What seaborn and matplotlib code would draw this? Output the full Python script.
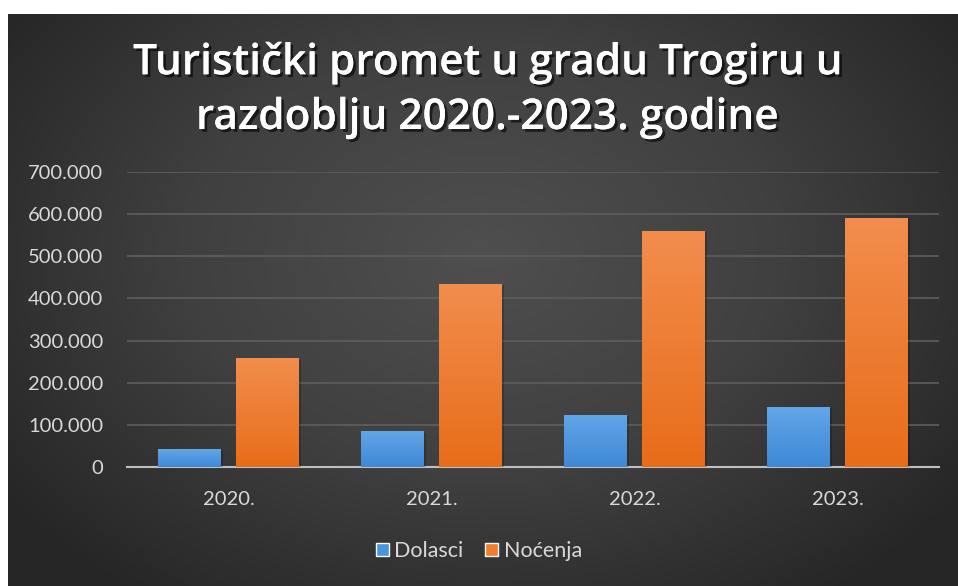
import numpy as np
import pandas as pd
import matplotlib
matplotlib.use("Agg")
import matplotlib.pyplot as plt
import matplotlib.patheffects as pe
from matplotlib.colors import LinearSegmentedColormap, to_hex
from matplotlib.patches import Patch
import seaborn as sns

years = ["2020.", "2021.", "2022.", "2023."]
dolasci = [42000, 85000, 124000, 143000]
nocenja = [258000, 435000, 560000, 591000]
yticks = [0, 100000, 200000, 300000, 400000, 500000, 600000, 700000]
ytick_labels = ["0", "100.000", "200.000", "300.000", "400.000", "500.000", "600.000", "700.000"]
series_names = ["Dolasci", "Noćenja"]

df = pd.DataFrame({
    "Godina": years * 2,
    "Vrijednost": dolasci + nocenja,
    "Serija": [series_names[0]] * 4 + [series_names[1]] * 4,
})

sns.set_theme(style="white")
plt.rcParams["font.family"] = ["Lato", "DejaVu Sans"]

W, H = 958, 586
fig = plt.figure(figsize=(W / 100, H / 100), dpi=100, facecolor="white")

# background radial gradient
bg = fig.add_axes([8 / W, 0, (W - 8) / W, (H - 14) / H])
bg.set_axis_off()
nx, ny = 400, 240
xx, yy = np.meshgrid(np.linspace(0, 1, nx), np.linspace(0, 1, ny))
r = np.sqrt(((xx - 0.5) / 0.62) ** 2 + ((yy - 0.42) / 0.75) ** 2)
r = np.clip(r, 0, 1)
cmap_bg = LinearSegmentedColormap.from_list("bg", ["#4f4f4f", "#404040", "#262626"])
bg.imshow(r, cmap=cmap_bg, aspect="auto", extent=[0, 1, 0, 1], origin="upper", vmin=0, vmax=1)
bg.set_xlim(0, 1)
bg.set_ylim(0, 1)

ax = fig.add_axes([127 / W, (H - 467) / H, (939 - 127) / W, (467 - 172) / H])
ax.patch.set_alpha(0)
palette = {"Dolasci": "#4a93dd", "Noćenja": "#ef7b2e"}
sns.barplot(data=df, x="Godina", y="Vrijednost", hue="Serija", palette=palette,
            width=0.77, gap=0.195, ax=ax, legend=False, saturation=1, zorder=3,
            linewidth=0, edgecolor="none")

ax.set_ylim(0, 700000)
ax.set_xlim(-0.5, 3.5)
ax.set_yticks(yticks)
ax.set_yticklabels(ytick_labels)
ax.set_xlabel("")
ax.set_ylabel("")
for s in ["top", "right", "left"]:
    ax.spines[s].set_visible(False)
ax.spines["bottom"].set_color("#bfbfbf")
ax.spines["bottom"].set_linewidth(1.5)
ax.yaxis.grid(True, color="#5e5e5e", linewidth=1.2, zorder=0)
ax.set_axisbelow(True)
ax.tick_params(axis="both", length=0, colors="#d9d9d9", labelsize=14.5)
ax.tick_params(axis="y", pad=17)
ax.tick_params(axis="x", pad=17)

# gradient fill for bars
grads = {
    "#4a93dd": ["#63a6e8", "#3e88d6"],
    "#ef7b2e": ["#f28d4d", "#e86d1a"],
}
for p in list(ax.patches):
    fc = to_hex(p.get_facecolor())
    if fc not in grads:
        continue
    x0, y0 = p.get_x(), p.get_y()
    w, h = p.get_width(), p.get_height()
    cm = LinearSegmentedColormap.from_list("g", grads[fc])
    g = np.linspace(0, 1, 100).reshape(-1, 1)
    im = ax.imshow(g, cmap=cm, aspect="auto", extent=[x0, x0 + w, y0, y0 + h],
                   origin="upper", zorder=4)
    im.set_clip_path(p)
    p.set_path_effects([pe.SimplePatchShadow(offset=(1.5, -1), shadow_rgbFace="black", alpha=0.2), pe.Normal()])
ax.set_xlim(-0.5, 3.5)
ax.set_ylim(0, 700000)

shadow = [pe.withSimplePatchShadow(offset=(2, -2), shadow_rgbFace="black", alpha=0.6), pe.Normal()]
fig.text(0.509, 1 - 63 / H, "Turistički promet u gradu Trogiru u", ha="center", va="center",
         color="white", fontsize=30.5, fontweight="semibold", family=["Open Sans", "DejaVu Sans"],
         path_effects=shadow)
fig.text(0.509, 1 - 118 / H, "razdoblju 2020.-2023. godine", ha="center", va="center",
         color="white", fontsize=30.5, fontweight="semibold", family=["Open Sans", "DejaVu Sans"],
         path_effects=shadow)

handles = [Patch(facecolor="#4a93dd", label="Dolasci"), Patch(facecolor="#ef7b2e", label="Noćenja")]
leg = fig.legend(handles=handles, loc="center", bbox_to_anchor=(0.5, 1 - 551 / H), ncol=2,
                 frameon=False, fontsize=15.5, handlelength=0.6, handleheight=0.6,
                 handletextpad=0.25, columnspacing=1.0)
for t in leg.get_texts():
    t.set_color("#d9d9d9")

fig.savefig("out.png", dpi=100, facecolor="white")
